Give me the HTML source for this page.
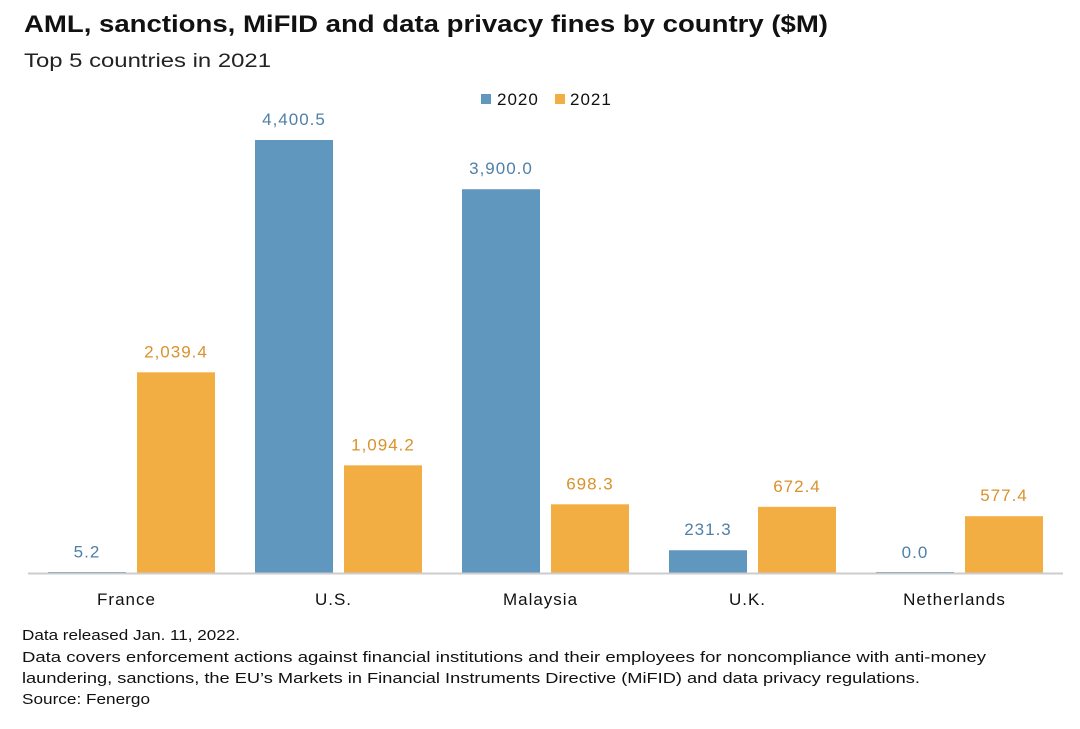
<!DOCTYPE html>
<html><head><meta charset="utf-8"><style>
body{margin:0;background:#fff;width:1080px;height:724px;overflow:hidden;font-family:"Liberation Sans",sans-serif}
</style></head><body>
<svg width="1080" height="724" id="c">
<text x="24" y="32" font-size="24" font-weight="bold" fill="#111" textLength="804" lengthAdjust="spacingAndGlyphs">AML, sanctions, MiFID and data privacy fines by country ($M)</text>
<text x="24" y="67" font-size="19" fill="#222" textLength="247" lengthAdjust="spacingAndGlyphs">Top 5 countries in 2021</text>
<g>
<rect x="481" y="94" width="10" height="10" fill="#6097bf"/>
<text x="497" y="105" font-size="17" letter-spacing="1" fill="#111">2020</text>
<rect x="555" y="94" width="10" height="10" fill="#f2ae43"/>
<text x="570" y="105" font-size="17" letter-spacing="1" fill="#111">2021</text>
</g>
<g id="bars"></g>
<line x1="28" y1="573.5" x2="1063" y2="573.5" stroke="#ccc" stroke-width="2"/>
<g font-size="15" fill="#111">
<text x="22" y="640" textLength="218" lengthAdjust="spacingAndGlyphs">Data released Jan. 11, 2022.</text>
<text x="22" y="662" textLength="964" lengthAdjust="spacingAndGlyphs">Data covers enforcement actions against financial institutions and their employees for noncompliance with anti-money</text>
<text x="22" y="683" textLength="898" lengthAdjust="spacingAndGlyphs">laundering, sanctions, the EU’s Markets in Financial Instruments Directive (MiFID) and data privacy regulations.</text>
<text x="22" y="704" textLength="128" lengthAdjust="spacingAndGlyphs">Source: Fenergo</text>
</g>
</svg>
<script>
const categories=["France","U.S.","Malaysia","U.K.","Netherlands"];
const values2020=[5.2,4400.5,3900.0,231.3,0.0];
const values2021=[2039.4,1094.2,698.3,672.4,577.4];
const labels2020=["5.2","4,400.5","3,900.0","231.3","0.0"];
const labels2021=["2,039.4","1,094.2","698.3","672.4","577.4"];
const NS="http://www.w3.org/2000/svg";
const g=document.getElementById('bars');
const base=573,scale=433/4400.5,groupW=207,x0=28,bw=78;
function y(v){return base-v*scale;}
function mk(t,a){const e=document.createElementNS(NS,t);for(const k in a)e.setAttribute(k,a[k]);g.appendChild(e);return e;}
categories.forEach((c,i)=>{
 const gs=x0+groupW*i;
 [[values2020,labels2020,20,"#6097bf","#4f80a8","2020"],[values2021,labels2021,109,"#f2ae43","#d9912c","2021"]].forEach(s=>{
  const v=s[0][i],x=gs+s[2];
  const h=Math.max(v*scale,1);
  const r=mk('rect',{x:x,y:base-h,width:bw,height:h,fill:s[3]});
  
  
  const t=mk('text',{x:x+bw/2,y:y(v)-15,'font-size':17,'letter-spacing':1,fill:s[4],'text-anchor':'middle'});
  t.textContent=s[1][i];
  
  
 });
 const l=mk('text',{x:gs+groupW/2-5,y:605,'font-size':17,'letter-spacing':1,fill:'#111','text-anchor':'middle'});
 l.textContent=c;
 
 
});
</script>
</body></html>
